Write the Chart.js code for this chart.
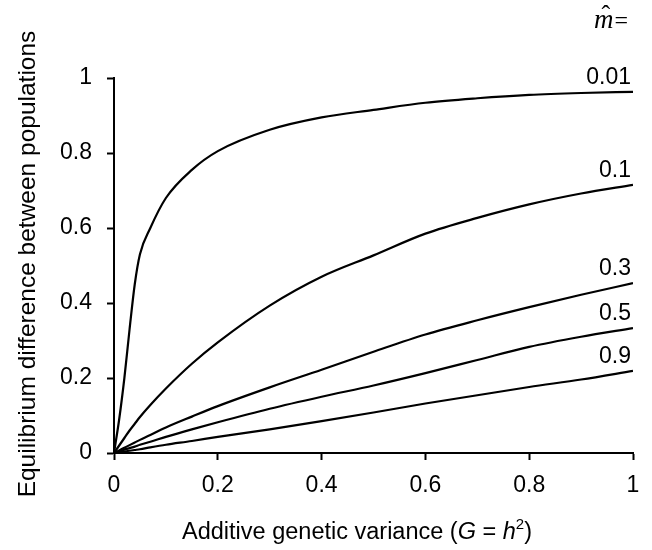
<!DOCTYPE html>
<html>
<head>
<meta charset="utf-8">
<script src="https://cdn.jsdelivr.net/npm/chart.js@4/dist/chart.umd.min.js"></script>
<style>
  html, body { margin: 0; padding: 0; background: #fff; }
  #wrap { width: 652px; height: 550px; }
</style>
</head>
<body>
<div id="wrap"><canvas id="chart"></canvas></div>
<script>
// Additive genetic variance (x values shared by all curves)
var gValues = [0, 0.01, 0.02, 0.03, 0.04, 0.05, 0.07, 0.1, 0.15, 0.2, 0.3, 0.4, 0.5, 0.6, 0.7, 0.8, 0.9, 1];

// Equilibrium difference for each migration rate
var m001 = [0, 0.09, 0.2, 0.33, 0.45, 0.53, 0.6, 0.68, 0.755, 0.805, 0.862, 0.895, 0.915, 0.934, 0.946, 0.955, 0.96, 0.963];
var m01  = [0, 0.02, 0.04, 0.06, 0.078, 0.096, 0.128, 0.172, 0.238, 0.295, 0.393, 0.47, 0.527, 0.585, 0.627, 0.663, 0.692, 0.715];
var m03  = [0, 0.007, 0.014, 0.021, 0.028, 0.035, 0.048, 0.068, 0.097, 0.125, 0.175, 0.222, 0.27, 0.316, 0.354, 0.389, 0.422, 0.453];
var m05  = [0, 0.004, 0.009, 0.013, 0.017, 0.022, 0.03, 0.043, 0.063, 0.082, 0.118, 0.15, 0.18, 0.213, 0.248, 0.283, 0.31, 0.333];
var m09  = [0, 0.002, 0.004, 0.006, 0.008, 0.01, 0.015, 0.022, 0.032, 0.043, 0.063, 0.085, 0.108, 0.132, 0.154, 0.176, 0.196, 0.219];

var seriesLabels = ['0.01', '0.1', '0.3', '0.5', '0.9'];
var seriesValues = [m001, m01, m03, m05, m09];
var tickLabels = ['0', '0.2', '0.4', '0.6', '0.8', '1'];

var SANS = "'Liberation Sans', Arial, Helvetica, sans-serif";
var SERIF = "'Liberation Serif', 'Times New Roman', serif";

var datasets = seriesValues.map(function(vals, i) {
    return {
        label: seriesLabels[i],
        data: gValues.map(function(g, j) { return { x: g, y: vals[j] }; }),
        showLine: true,
        borderColor: '#000',
        borderWidth: 2.2,
        pointRadius: 0,
        tension: 0.4,
        cubicInterpolationMode: 'monotone',
        fill: false
    };
});

// Draws axis titles, curve labels and the m-hat heading
var annotations = {
    id: 'annotations',
    afterDraw: function(chart) {
        var ctx = chart.ctx;
        var xs = chart.scales.x, ys = chart.scales.y;
        ctx.save();
        ctx.fillStyle = '#000';

        // curve labels at the right end of each line
        ctx.font = '23px ' + SANS;
        ctx.textAlign = 'right';
        ctx.textBaseline = 'alphabetic';
        seriesValues.forEach(function(vals, i) {
            var last = vals[vals.length - 1];
            ctx.fillText(seriesLabels[i], xs.getPixelForValue(1) - 2, ys.getPixelForValue(last) - 8);
        });

        // m-hat =
        ctx.textAlign = 'left';
        ctx.font = 'italic 27px ' + SERIF;
        var mx = 594, my = 28;
        ctx.fillText('m', mx, my);
        var mw = ctx.measureText('m').width;
        ctx.font = '26px ' + SERIF;
        ctx.textAlign = 'center';
        ctx.fillText('\u02C6', mx + mw / 2 + 2, my - 5);
        ctx.textAlign = 'left';
        ctx.font = '24px ' + SERIF;
        ctx.fillText('=', mx + mw + 1, my);

        // y axis title
        ctx.save();
        ctx.translate(28, 264);
        ctx.rotate(-Math.PI / 2);
        ctx.font = '24.5px ' + SANS;
        ctx.textAlign = 'center';
        ctx.textBaseline = 'middle';
        ctx.fillText('Equilibrium difference between populations', 0, 0);
        ctx.restore();

        // x axis title with italic symbols and superscript
        var parts = [
            { t: 'Additive genetic variance (', f: '23.5px ' + SANS, dy: 0 },
            { t: 'G', f: 'italic 23.5px ' + SANS, dy: 0 },
            { t: ' = ', f: '23.5px ' + SANS, dy: 0 },
            { t: 'h', f: 'italic 23.5px ' + SANS, dy: 0 },
            { t: '2', f: '15px ' + SANS, dy: -10 },
            { t: ')', f: '23.5px ' + SANS, dy: 0 }
        ];
        var total = 0;
        parts.forEach(function(p) { ctx.font = p.f; p.w = ctx.measureText(p.t).width; total += p.w; });
        var x = 357 - total / 2, base = 539;
        ctx.textAlign = 'left';
        ctx.textBaseline = 'alphabetic';
        parts.forEach(function(p) {
            ctx.font = p.f;
            ctx.fillText(p.t, x, base + p.dy);
            x += p.w;
        });
        ctx.restore();
    }
};

var ctx = document.getElementById('chart').getContext('2d');
var chart = new Chart(ctx, {
    type: 'scatter',
    data: { datasets: datasets },
    options: {
        responsive: true,
        maintainAspectRatio: false,
        animation: false,
        layout: { padding: { top: 78, right: 19, left: 0, bottom: 0 } },
        scales: {
            x: {
                type: 'linear',
                min: 0,
                max: 1,
                afterFit: function(s) { s.height = 97; },
                border: { display: true, color: '#000', width: 2 },
                grid: { drawOnChartArea: false, drawTicks: true, tickLength: 7, tickColor: '#000', tickWidth: 2 },
                ticks: {
                    stepSize: 0.2,
                    color: '#000',
                    padding: 12,
                    font: { family: SANS, size: 23 },
                    maxRotation: 0,
                    callback: function(value) { return tickLabels[Math.round(value / 0.2)]; }
                }
            },
            y: {
                type: 'linear',
                min: 0,
                max: 1,
                afterFit: function(s) { s.width = 114; },
                border: { display: true, color: '#000', width: 2 },
                grid: { drawOnChartArea: false, drawTicks: true, tickLength: 7, tickColor: '#000', tickWidth: 2 },
                ticks: {
                    stepSize: 0.2,
                    color: '#000',
                    padding: 15,
                    font: { family: SANS, size: 23 },
                    callback: function(value) { return tickLabels[Math.round(value / 0.2)]; }
                }
            }
        },
        plugins: {
            legend: { display: false },
            tooltip: { enabled: false },
            title: { display: false }
        }
    },
    plugins: [annotations]
});
</script>
</body>
</html>
